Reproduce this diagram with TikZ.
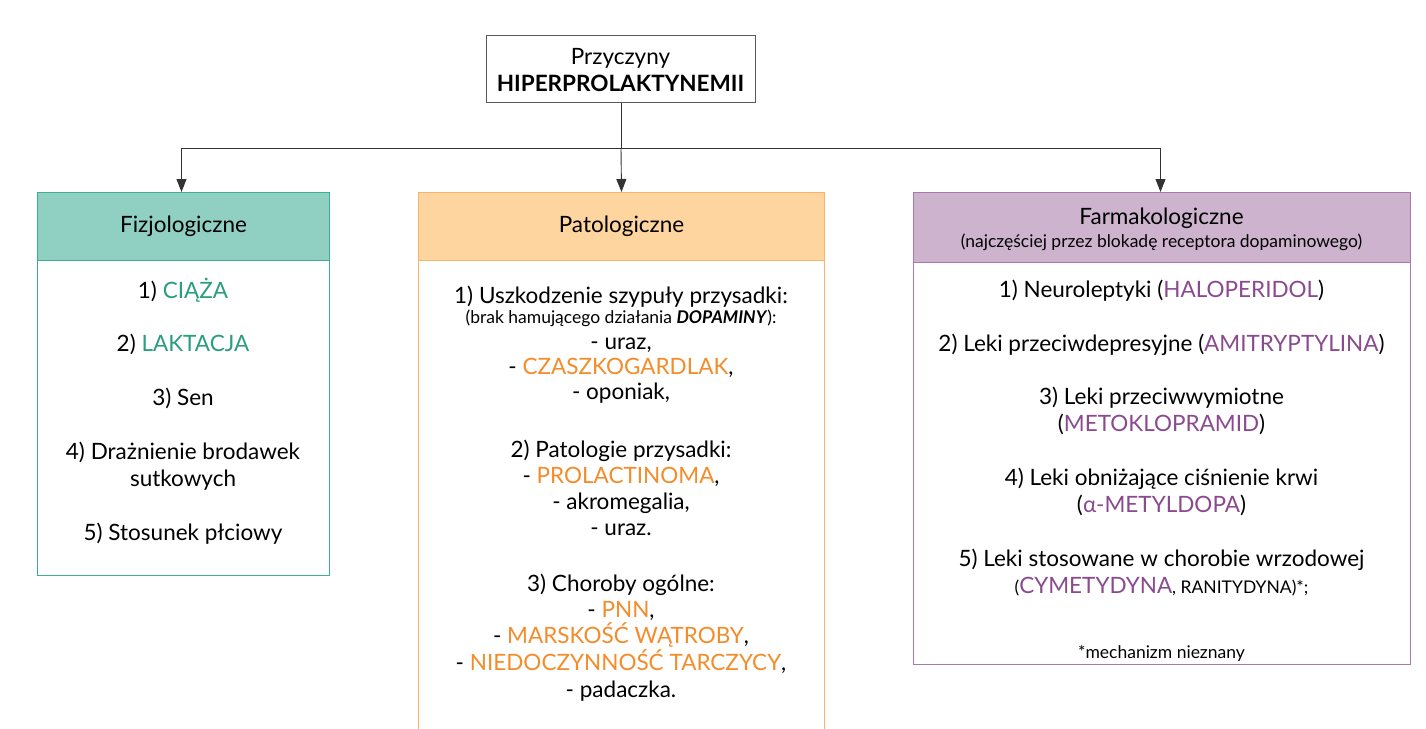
\documentclass[tikz,border=0pt]{standalone}
\usepackage{fontspec}
\setmainfont{Lato}
\usetikzlibrary{arrows.meta}
\definecolor{tealF}{HTML}{8FD0C2}
\definecolor{tealB}{HTML}{3DAF92}
\definecolor{tealT}{HTML}{2A9D7F}
\definecolor{orF}{HTML}{FED59E}
\definecolor{orB}{HTML}{F5B36C}
\definecolor{orT}{HTML}{F48C2A}
\definecolor{puF}{HTML}{CDB3CD}
\definecolor{puB}{HTML}{A87AAA}
\definecolor{puT}{HTML}{8B4A8F}
\definecolor{lineC}{HTML}{333333}
\tikzset{
  txt/.style={anchor=mid, inner sep=0pt, yshift=-5pt, font=\fontsize{22.5}{27}\selectfont},
  sm/.style={anchor=mid, inner sep=0pt, yshift=-4pt, font=\fontsize{17.5}{21}\selectfont},
  hdr/.style={anchor=north west, inner sep=0pt, line width=1pt, font=\fontsize{22.5}{27}\selectfont},
  body/.style={anchor=north west, inner sep=0pt, line width=1pt, fill=white},
  conn/.style={draw=lineC, line width=0.9pt},
  arr/.style={conn, -{Triangle[width=10pt,length=13pt]}}
}
\newcommand{\smf}{\fontsize{17.5}{21}\selectfont}
\begin{document}
\begin{tikzpicture}[x=1pt,y=-1pt]
\useasboundingbox (0,0) rectangle (1426,728);
\clip (0,0) rectangle (1426,728);
% top box
\node[draw=black!65, line width=1pt, anchor=north west, minimum width=269pt, minimum height=67pt, inner sep=0pt] (top) at (486,35) {};
\node[txt] (top1) at (620.5,57) {Przyczyny};
\node[txt] (top2) at (620.5,84) {\bfseries HIPERPROLAKTYNEMII};
% bodies
\node[body, draw=tealB, minimum width=292pt, minimum height=383pt] (fizb) at (37,192) {};
\node[body, draw=orB, minimum width=406pt, minimum height=560pt] (patb) at (418,192) {};
\node[body, draw=puB, minimum width=497pt, minimum height=472pt] (farb) at (913,192) {};
% headers
\node[hdr, draw=tealB, fill=tealF, minimum width=292pt, minimum height=68pt] (fizh) at (37,192) {Fizjologiczne};
\node[hdr, draw=orB, fill=orF, minimum width=406pt, minimum height=68pt] (path) at (418,192) {Patologiczne};
\node[hdr, draw=puB, fill=puF, minimum width=497pt, minimum height=70pt] (farh) at (913,192) {};
\node[txt] (farh1) at (1161.5,217) {Farmakologiczne};
\node[sm] (farh2) at (1161.5,241) {(najczęściej przez blokadę receptora dopaminowego)};
% connectors
\coordinate (j) at (top.south |- 0,148);
\draw[conn] (top.south) -- (j);
\draw[arr] (j) -- (path.north);
\draw[arr] (j) -| ([xshift=-2pt]fizh.north);
\draw[arr] (j) -| ([xshift=-1.5pt]farh.north);
% left texts
\node[txt] (f1) at (183,291) {1) \textcolor{tealT}{CIĄŻA}};
\node[txt] (f2) at (183,344) {2) \textcolor{tealT}{LAKTACJA}};
\node[txt] (f3) at (183,398) {3) Sen};
\node[txt] (f4a) at (183,452) {4) Drażnienie brodawek};
\node[txt] (f4b) at (183,479) {sutkowych};
\node[txt] (f5) at (183,533) {5) Stosunek płciowy};
% middle texts
\node[txt] (p1) at (621,296) {1) Uszkodzenie szypuły przysadki:};
\node[sm] (p1s) at (621,317) {(brak hamującego działania \textbf{\itshape DOPAMINY}):};
\node[txt] (p1a) at (621,342) {- uraz,};
\node[txt] (p1b) at (621,367) {- \textcolor{orT}{CZASZKOGARDLAK},};
\node[txt] (p1c) at (621,392) {- oponiak,};
\node[txt] (p2) at (621,450) {2) Patologie przysadki:};
\node[txt] (p2a) at (621,476) {- \textcolor{orT}{PROLACTINOMA},};
\node[txt] (p2b) at (621,502) {- akromegalia,};
\node[txt] (p2c) at (621,528) {- uraz.};
\node[txt] (p3) at (621,584) {3) Choroby ogólne:};
\node[txt] (p3a) at (621,610) {- \textcolor{orT}{PNN},};
\node[txt] (p3b) at (621,636) {- \textcolor{orT}{MARSKOŚĆ WĄTROBY},};
\node[txt] (p3c) at (621,663) {- \textcolor{orT}{NIEDOCZYNNOŚĆ TARCZYCY},};
\node[txt] (p3d) at (621,690) {- padaczka.};
% right texts
\node[txt] (r1) at (1161.5,290) {1) Neuroleptyki (\textcolor{puT}{HALOPERIDOL})};
\node[txt] (r2) at (1161.5,344) {2) Leki przeciwdepresyjne (\textcolor{puT}{AMITRYPTYLINA})};
\node[txt] (r3a) at (1161.5,397) {3) Leki przeciwwymiotne};
\node[txt] (r3b) at (1161.5,424) {(\textcolor{puT}{METOKLOPRAMID})};
\node[txt] (r4a) at (1161.5,478) {4) Leki obniżające ciśnienie krwi};
\node[txt] (r4b) at (1161.5,505) {(\textcolor{puT}{α-METYLDOPA})};
\node[txt] (r5a) at (1161.5,559) {5) Leki stosowane w chorobie wrzodowej};
\node[txt] (r5b) at (1161.5,586) {{\smf(}\textcolor{puT}{CYMETYDYNA}{\smf, RANITYDYNA)*;}};
\node[sm] (r6) at (1161.5,652) {*mechanizm nieznany};
\end{tikzpicture}
\end{document}
